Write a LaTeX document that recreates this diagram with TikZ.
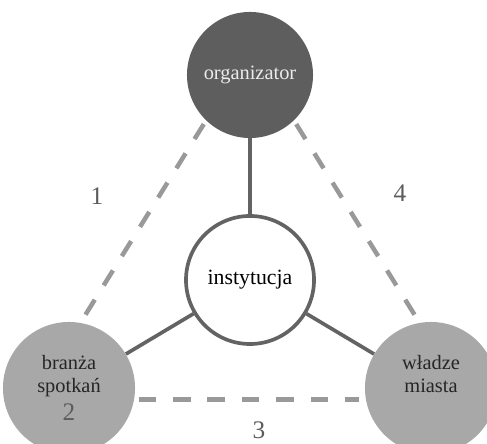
\documentclass[tikz,border=0pt]{standalone}
\usepackage{fontspec}
\setmainfont{Liberation Serif}
\definecolor{ciemny}{HTML}{5E5E5E}
\definecolor{jasny}{HTML}{A8A8A8}
\definecolor{linia}{HTML}{636363}
\definecolor{kreska}{HTML}{999999}
\definecolor{cyfra}{HTML}{5C5C5C}
\tikzset{
  kolo/.style={circle, inner sep=0pt, minimum size=3.2cm, align=center,
    font=\fontsize{14.5}{16}\selectfont},
  polaczenie/.style={line width=2.6pt, draw=linia},
  przerywana/.style={line width=3.2pt, draw=kreska, dash pattern=on 12.5pt off 12pt,
    shorten <=3pt, shorten >=5pt},
  numer/.style={text=cyfra, inner sep=0pt, font=\fontsize{18}{18}\selectfont}
}
\begin{document}
\begin{tikzpicture}[x=0.025cm, y=0.025cm]
  \clip (0, 0) rectangle (487, 444);
  \fill[white] (0, 0) rectangle (487, 444);
  % kola
  \node[kolo, fill=ciemny, text=white!92!black, minimum size=3.15cm] (org) at (250, 369) {organizator};
  \node[kolo, fill=jasny, text=black!85, minimum size=3.3cm] (branza) at (69, 56) {branża\\spotkań\\[4pt]\textcolor{cyfra}{\fontsize{18}{18}\selectfont 2}};
  \node[kolo, fill=jasny, text=black!85, minimum size=3.3cm] (wladze) at (431, 56) {władze\\miasta\\[4pt]\phantom{\fontsize{18}{18}\selectfont 2}};
  \node[kolo, fill=white, draw=linia, line width=2.6pt, minimum size=3.2cm,
    font=\fontsize{15.5}{17}\selectfont] (inst) at (250, 164) {instytucja};
  % linie
  \draw[polaczenie] (org) -- (inst);
  \draw[polaczenie] (inst) -- (branza);
  \draw[polaczenie] (inst) -- (wladze);
  \draw[przerywana] (org.226) -- (branza.80);
  \draw[przerywana] (org.314) -- (wladze.100);
  \draw[przerywana] (branza.-10) -- (wladze.190);
  % numery
  \node[numer] (n1) at (97, 248) {1};
  \node[numer] (n4) at (400, 251) {4};
  \node[numer] (n3) at (259, 14) {3};
\end{tikzpicture}
\end{document}
